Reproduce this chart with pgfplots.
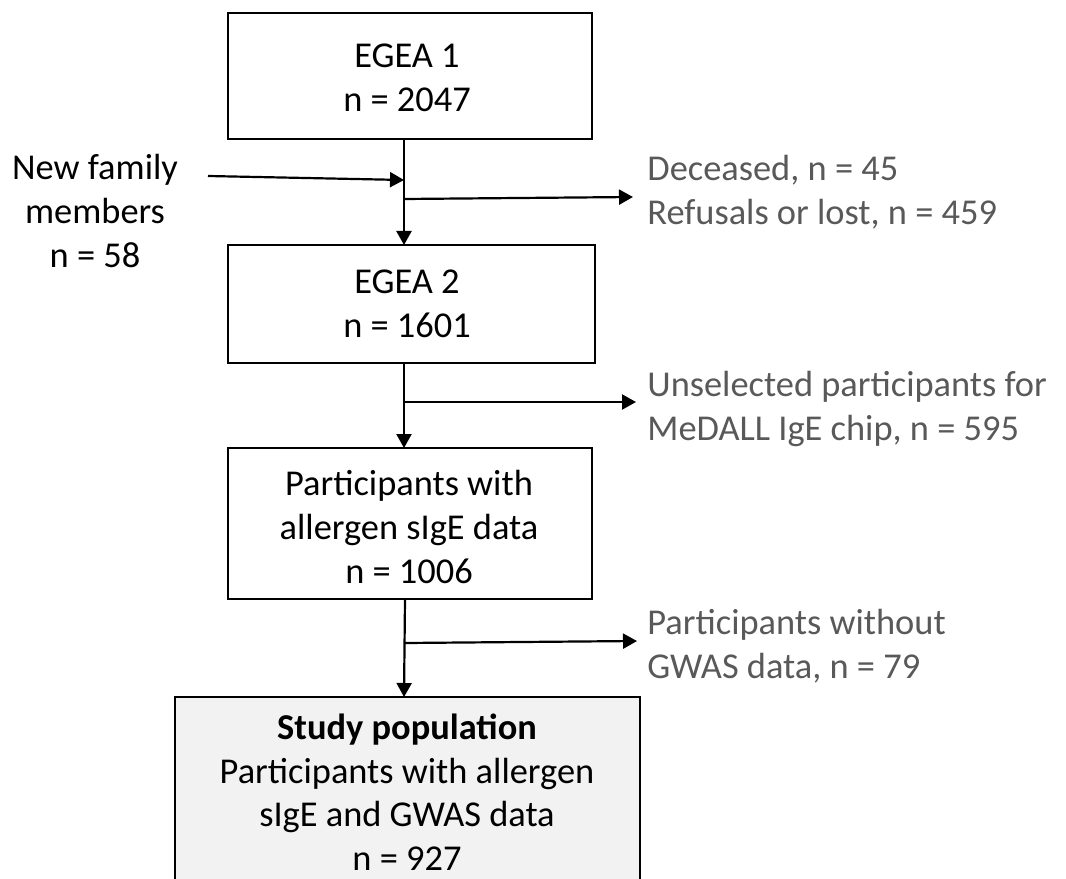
\documentclass[border=0pt]{standalone}
\usepackage{pgfplots}
\pgfplotsset{compat=1.18}
\usetikzlibrary{arrows.meta}
\usepackage{fontspec}
\setmainfont{Carlito}
\definecolor{txtgray}{HTML}{595959}
\definecolor{boxfill}{HTML}{F2F2F2}
\begin{document}
\begin{tikzpicture}
\begin{axis}[
  scale only axis, width=533bp, height=439.5bp,
  xmin=0, xmax=1066, ymin=0, ymax=879, y dir=reverse,
  hide axis, clip mode=individual, no marks,
  cycle list={{black}},
  every axis plot post/.append style={line width=1.1bp, line join=miter},
]
% boxes
\addplot coordinates {(228,13) (592,13) (592,139) (228,139) (228,13) (592,13)};
\addplot coordinates {(228,245) (595,245) (595,363) (228,363) (228,245) (595,245)};
\addplot coordinates {(228,448) (592,448) (592,599) (228,599) (228,448) (592,448)};
\addplot[fill=boxfill] coordinates {(175,900) (175,697) (640,697) (640,900)};
% main vertical arrows
\addplot[-{Triangle[width=7.5bp,length=7bp]}] coordinates {(404,139) (404,245)};
\addplot[-{Triangle[width=7.5bp,length=7bp]}] coordinates {(404,363) (404,448)};
\addplot[-{Triangle[width=7.5bp,length=7bp]}] coordinates {(405,599) (404,697)};
% incoming arrow
\addplot[-{Triangle[width=7.5bp,length=7bp]}] coordinates {(208,176) (404,180)};
% outgoing arrows
\addplot[-{Triangle[width=7.5bp,length=7bp]}] coordinates {(404,199) (633,197)};
\addplot[-{Triangle[width=7.5bp,length=7bp]}] coordinates {(404,402) (636,402)};
\addplot[-{Triangle[width=7.5bp,length=7bp]}] coordinates {(405,643) (637,641)};
% texts
\tikzset{every node/.style={font=\fontsize{18.2bp}{21.8bp}\selectfont, align=center, inner sep=0pt}}
\node at (axis cs:407,78) {EGEA 1\\n = 2047};
\node at (axis cs:407,304) {EGEA 2\\n = 1601};
\node at (axis cs:409,527) {Participants with\\allergen sIgE data\\n = 1006};
\node at (axis cs:407,792) {\textbf{Study population}\\Participants with allergen\\sIgE and GWAS data\\n = 927};
\node at (axis cs:95,211) {New family\\members\\n = 58};
\node[anchor=west, align=left, text=txtgray] at (axis cs:647,192) {Deceased, n = 45\\Refusals or lost, n = 459};
\node[anchor=west, align=left, text=txtgray] at (axis cs:647,409) {Unselected participants for\\MeDALL IgE chip, n = 595};
\node[anchor=west, align=left, text=txtgray] at (axis cs:647,646) {Participants without\\GWAS data, n = 79};
\coordinate (SW) at (axis cs:0,879);
\coordinate (NE) at (axis cs:1066,0);
\end{axis}
\pgfresetboundingbox
\path[use as bounding box] (SW) rectangle (NE);
\end{tikzpicture}
\end{document}
